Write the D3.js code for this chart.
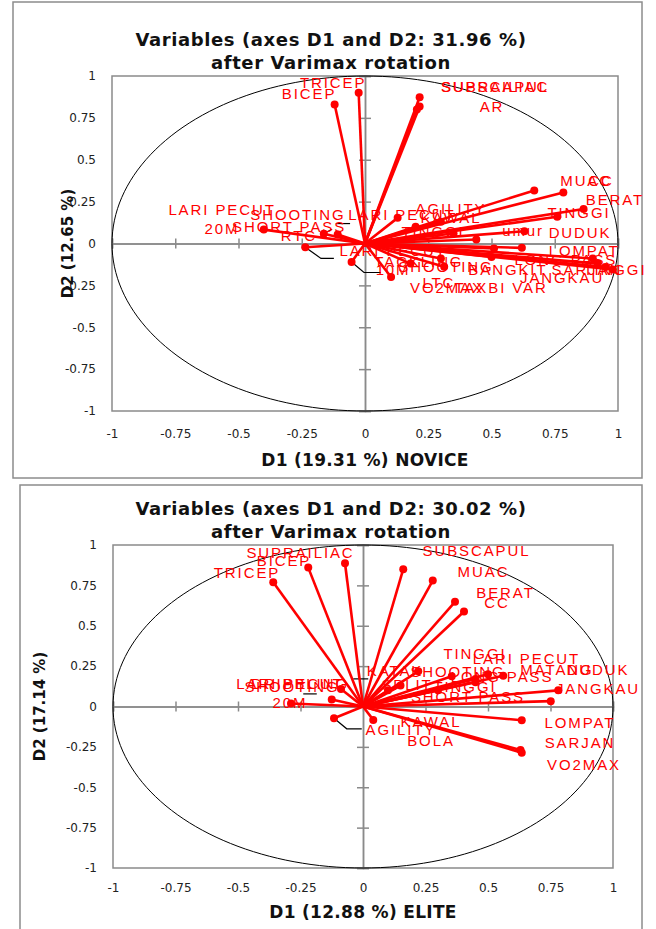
<!DOCTYPE html>
<html>
<head>
<meta charset="utf-8">
<script src="https://cdn.jsdelivr.net/npm/d3@7/dist/d3.min.js"></script>
<style>
  body { margin: 0; background: #fff; }
  svg { display: block; }
</style>
</head>
<body>
<script>
// tick values shared by both panels
const tickValues = [-1, -0.75, -0.5, -0.25, 0, 0.25, 0.5, 0.75, 1]
const tickLabels = ['-1', '-0.75', '-0.5', '-0.25', '0', '0.25', '0.5', '0.75', '1']

// NOVICE panel: variable loadings (D1, D2) and label anchors (data units)
const noviceNames = ['TRICEP', 'BICEP', 'SUBSCAPUL', 'SUPRAILIAC', 'AR', 'MUAC', 'CC', 'BERAT', 'TINGGI',
  'umur', 'DUDUK', 'AGILITY', 'KAWAL', 'LARI PECUT', 'TINGGI', 'LARI PECUT\n20M', 'SHOOTING', 'SHORT PASS',
  'RTC', 'LARI PECUT\n10M', 'TACKLING', 'SHOOTING', 'LTC', 'VO2MAX', 'TAXBI VAR', 'BANGKIT', 'LOMPAT',
  'LONG PASS', 'SARJAN', 'TINGGI', 'JANGKAU']
const noviceD1 = [-0.025, -0.12, 0.216, 0.216, 0.205, 0.784, 0.669, 0.864, 0.76,
  0.63, 0.44, 0.30, 0.20, 0.129, 0.35, -0.40, -0.163, -0.108,
  -0.236, 0.103, -0.053, 0.313, 0.18, 0.50, 0.30, 0.51, 0.62,
  0.90, 0.98, 0.95, 0.92]
const noviceD2 = [0.90, 0.83, 0.873, 0.818, 0.80, 0.305, 0.317, 0.206, 0.16,
  0.073, 0.024, 0.13, 0.10, 0.153, 0.06, 0.083, 0.058, 0.054,
  -0.022, -0.20, -0.11, -0.139, -0.12, -0.08, -0.09, -0.03, -0.026,
  -0.09, -0.155, -0.14, -0.12]
const noviceLabelD1 = [-0.126, -0.221, 0.514, 0.514, 0.502, 0.874, 0.933, 0.988, 0.846,
  0.625, 0.85, 0.34, 0.34, 0.146, 0.269, -0.565, -0.265, -0.30,
  -0.261, 0.111, 0.213, 0.32, 0.292, 0.324, 0.538, 0.565, 0.866,
  0.794, 0.877, 0.988, 0.779]
const noviceLabelD2 = [0.958, 0.893, 0.935, 0.935, 0.815, 0.375, 0.375, 0.262, 0.185,
  0.077, 0.065, 0.208, 0.155, 0.173, 0.071, 0.202, 0.173, 0.101,
  0.048, -0.042, -0.107, -0.137, -0.232, -0.262, -0.262, -0.155, -0.042,
  -0.095, -0.155, -0.155, -0.202]
// black label leader lines (data units)
const noviceLeaders = [
  [[-0.236, -0.022], [-0.174, -0.089], [-0.123, -0.089]],
  [[-0.053, -0.11], [-0.004, -0.173], [0.063, -0.173]],
  [[-0.115, 0.119], [-0.059, 0.119]],
  [[-0.163, 0.058], [-0.13, 0.085]]
]

// ELITE panel
const eliteNames = ['SUPRAILIAC', 'BICEP', 'TRICEP', 'SUBSCAPUL', 'MUAC', 'BERAT', 'CC', 'TINGGI',
  'LARI PECUT', 'MATANG', 'DUDUK', 'JANGKAU', 'SHOOTING', 'KATAK', 'LONG PASS', 'TINGGI', 'SHORT PASS',
  'SPLIT', 'LOMPAT', 'SARJAN', 'VO2MAX', 'KAWAL\nBOLA', 'AGILITY', 'LARI PECUT\n20M', 'SHOOTING', 'DRIBBLING']
const eliteD1 = [-0.072, -0.219, -0.359, 0.161, 0.279, 0.368, 0.404, 0.355,
  0.50, 0.45, 0.561, 0.781, 0.221, 0.15, 0.45, 0.30, 0.751,
  0.10, 0.635, 0.63, 0.635, 0.041, -0.116, -0.288, -0.125, -0.088]
const eliteD2 = [0.887, 0.86, 0.77, 0.85, 0.78, 0.648, 0.588, 0.187,
  0.20, 0.15, 0.19, 0.10, 0.218, 0.13, 0.17, 0.10, 0.033,
  0.10, -0.085, -0.27, -0.286, -0.083, -0.073, 0.019, 0.043, 0.109]
const eliteLabelD1 = [-0.25, -0.316, -0.464, 0.454, 0.482, 0.57, 0.536, 0.448,
  0.654, 0.776, 0.94, 0.94, 0.38, 0.128, 0.556, 0.408, 0.42,
  0.176, 0.868, 0.868, 0.884, 0.272, 0.152, -0.292, -0.284, -0.252]
const eliteLabelD2 = [0.951, 0.901, 0.827, 0.963, 0.833, 0.704, 0.642, 0.327,
  0.296, 0.228, 0.228, 0.111, 0.216, 0.222, 0.185, 0.123, 0.062,
  0.136, -0.099, -0.222, -0.358, -0.093, -0.142, 0.142, 0.123, 0.142]
const eliteLeaders = [
  [[-0.116, -0.073], [-0.065, -0.138], [-0.005, -0.138]],
  [[-0.239, 0.078], [-0.185, 0.078]],
  [[-0.039, 0.171], [0.021, 0.171]]
]

const svg = d3.select('body').append('svg')
  .attr('width', 656)
  .attr('height', 929)

const red = '#ff0000'

function drawPanel(p, names, d1, d2, lx, ly, leaders) {
  // outer frame
  svg.append('rect')
    .attr('x', p.box[0]).attr('y', p.box[1])
    .attr('width', p.box[2]).attr('height', p.box[3])
    .attr('fill', 'none')
    .attr('stroke', '#8c8c8c')
    .attr('stroke-width', 1.5)

  const x = d3.scaleLinear().domain([-1, 1]).range([p.left, p.right])
  const y = d3.scaleLinear().domain([-1, 1]).range([p.bottom, p.top])

  const g = svg.append('g')

  // plot area frame
  g.append('rect')
    .attr('x', x(-1)).attr('y', y(1))
    .attr('width', x(1) - x(-1)).attr('height', y(-1) - y(1))
    .attr('fill', 'none')
    .attr('stroke', '#8a8a8a')
    .attr('stroke-width', 1.5)

  // tick labels
  const xAxis = d3.axisBottom(x).tickValues(tickValues).tickSize(0).tickPadding(p.xPad)
    .tickFormat((d, i) => tickLabels[i])
  g.append('g')
    .attr('transform', 'translate(0,' + y(-1) + ')')
    .call(xAxis)
    .call(a => a.select('.domain').remove())
  const yAxis = d3.axisLeft(y).tickValues(tickValues).tickSize(0).tickPadding(16)
    .tickFormat((d, i) => tickLabels[i])
  g.append('g')
    .attr('transform', 'translate(' + x(-1) + ',0)')
    .call(yAxis)
    .call(a => a.select('.domain').remove())
  g.selectAll('.tick text')
    .attr('font-family', 'DejaVu Sans')
    .attr('font-size', 12)
    .attr('fill', '#222')

  // zero axes with crossing ticks
  const zx = g.append('g').attr('transform', 'translate(0,' + y(0) + ')')
  zx.call(d3.axisBottom(x).tickValues(tickValues).tickSize(5).tickFormat(''))
  zx.append('g').call(d3.axisTop(x).tickValues(tickValues).tickSize(5).tickFormat(''))
  const zy = g.append('g').attr('transform', 'translate(' + x(0) + ',0)')
  zy.call(d3.axisLeft(y).tickValues(tickValues).tickSize(6).tickFormat(''))
  zy.append('g').call(d3.axisRight(y).tickValues(tickValues).tickSize(6).tickFormat(''))
  g.selectAll('.domain').attr('stroke', '#8a8a8a').attr('stroke-width', 1.5)
  g.selectAll('.tick line').attr('stroke', '#8a8a8a').attr('stroke-width', 1.5)

  // correlation circle
  const circle = d3.range(0, 361, 2).map(a => [Math.cos(a * Math.PI / 180), Math.sin(a * Math.PI / 180)])
  const line = d3.line().x(d => x(d[0])).y(d => y(d[1]))
  g.append('path')
    .datum(circle)
    .attr('d', line)
    .attr('fill', 'none')
    .attr('stroke', '#000')
    .attr('stroke-width', 1)

  // leader lines
  g.selectAll('path.leader')
    .data(leaders)
    .join('path')
    .attr('class', 'leader')
    .attr('d', line)
    .attr('fill', 'none')
    .attr('stroke', '#000')
    .attr('stroke-width', 1.2)

  const rows = names.map((n, i) => ({ name: n, d1: d1[i], d2: d2[i], lx: lx[i], ly: ly[i] }))

  // vectors
  g.selectAll('line.vec')
    .data(rows)
    .join('line')
    .attr('class', 'vec')
    .attr('x1', x(0)).attr('y1', y(0))
    .attr('x2', d => x(d.d1)).attr('y2', d => y(d.d2))
    .attr('stroke', red)
    .attr('stroke-width', 2.6)

  g.selectAll('circle.tip')
    .data(rows)
    .join('circle')
    .attr('class', 'tip')
    .attr('cx', d => x(d.d1)).attr('cy', d => y(d.d2))
    .attr('r', 4)
    .attr('fill', red)

  // labels
  const labels = g.selectAll('text.lab')
    .data(rows)
    .join('text')
    .attr('class', 'lab')
    .attr('x', d => x(d.lx))
    .attr('y', d => y(d.ly))
    .attr('text-anchor', 'middle')
    .attr('font-family', 'Liberation Sans')
    .attr('font-size', 15)
    .attr('letter-spacing', 1.9)
    .attr('fill', red)
  labels.each(function (d) {
    const lines = d.name.split('\n')
    d3.select(this).selectAll('tspan')
      .data(lines)
      .join('tspan')
      .attr('x', x(d.lx))
      .attr('dy', (l, i) => i === 0 ? '0.36em' : 19)
      .text(l => l)
  })

  // titles
  const title = svg.append('text')
    .attr('text-anchor', 'middle')
    .attr('font-family', 'DejaVu Sans')
    .attr('font-weight', 700)
    .attr('font-size', 18)
    .attr('letter-spacing', 0.6)
    .attr('fill', '#111')
  title.append('tspan').attr('x', 331).attr('y', p.titleY).text(p.title)
  title.append('tspan').attr('x', 331).attr('y', p.titleY + 23).text('after Varimax rotation')

  svg.append('text')
    .attr('x', x(0))
    .attr('y', p.xTitleY)
    .attr('text-anchor', 'middle')
    .attr('font-family', 'DejaVu Sans')
    .attr('font-weight', 700)
    .attr('font-size', 17)
    .attr('letter-spacing', 0.3)
    .attr('fill', '#111')
    .text(p.xTitle)

  svg.append('text')
    .attr('transform', 'translate(' + p.yTitleX + ',' + y(0) + ') rotate(-90)')
    .attr('text-anchor', 'middle')
    .attr('font-family', 'DejaVu Sans')
    .attr('font-weight', 700)
    .attr('font-size', 15)
    .attr('fill', '#111')
    .text(p.yTitle)
}

drawPanel({
  box: [13, 2, 629, 476],
  left: 112, right: 618, top: 76, bottom: 411,
  xPad: 18,
  titleY: 46,
  title: 'Variables (axes D1 and D2: 31.96 %)',
  xTitle: 'D1 (19.31 %) NOVICE', xTitleY: 466,
  yTitle: 'D2 (12.65 %)', yTitleX: 73
}, noviceNames, noviceD1, noviceD2, noviceLabelD1, noviceLabelD2, noviceLeaders)

drawPanel({
  box: [20, 485, 622, 460],
  left: 113, right: 613, top: 545, bottom: 868,
  xPad: 15,
  titleY: 515,
  title: 'Variables (axes D1 and D2: 30.02 %)',
  xTitle: 'D1 (12.88 %) ELITE', xTitleY: 918,
  yTitle: 'D2 (17.14 %)', yTitleX: 45
}, eliteNames, eliteD1, eliteD2, eliteLabelD1, eliteLabelD2, eliteLeaders)
</script>
</body>
</html>
